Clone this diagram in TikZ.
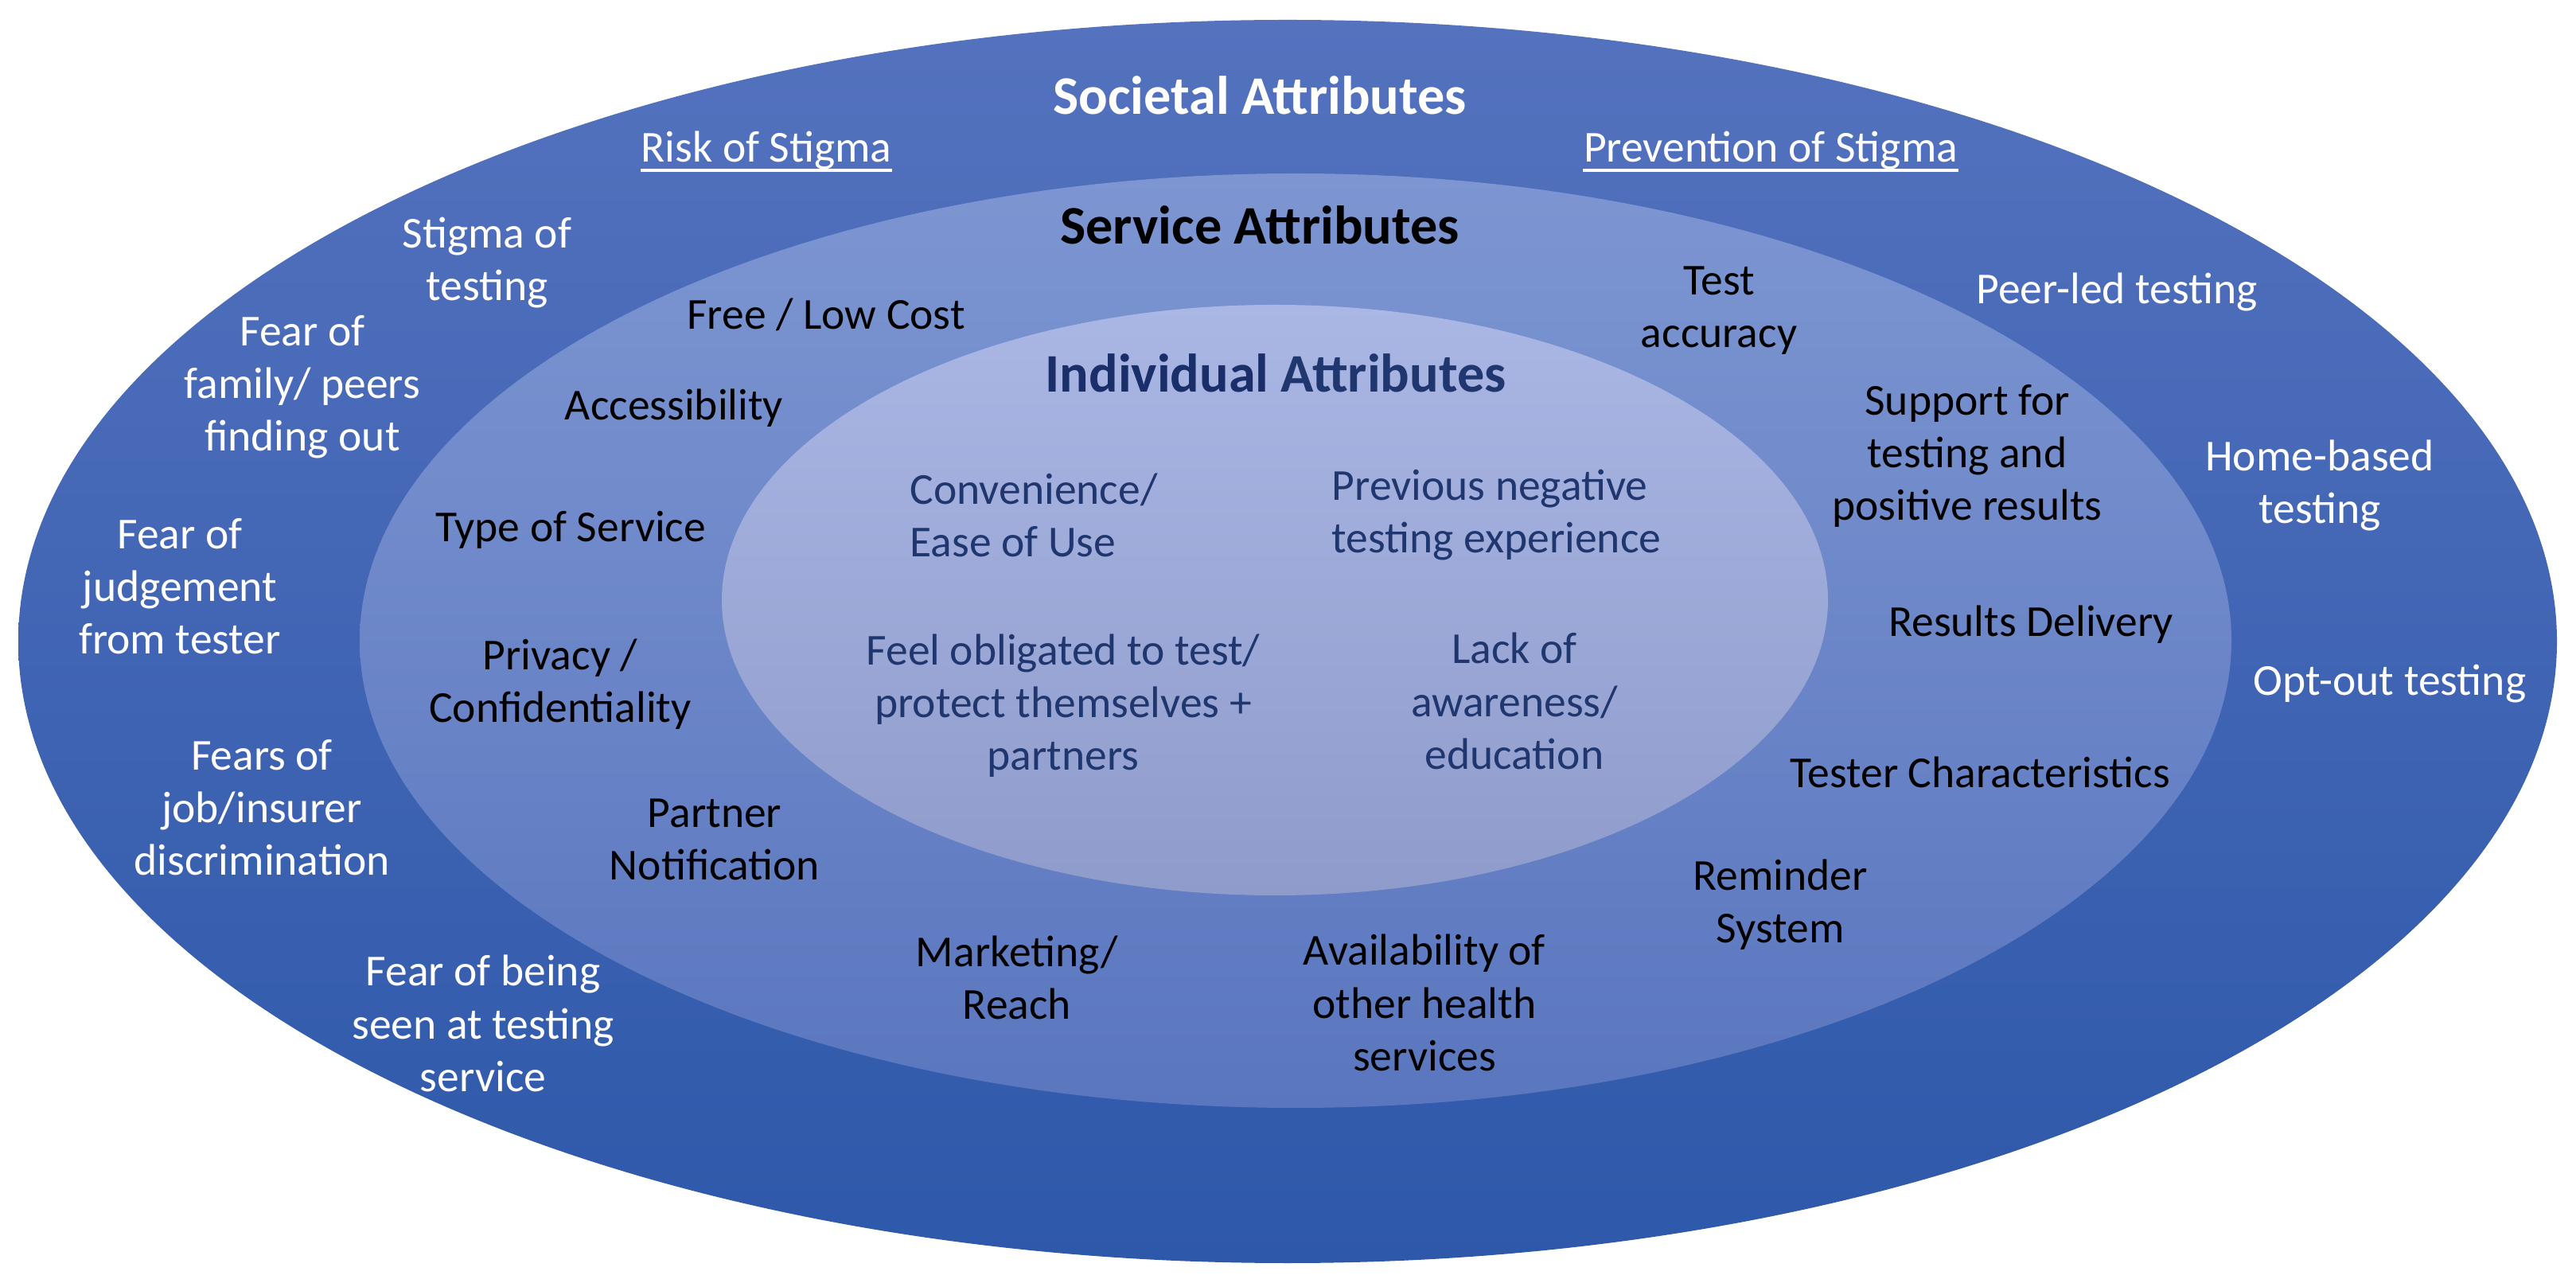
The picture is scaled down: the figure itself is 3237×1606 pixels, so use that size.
\documentclass[tikz,border=0pt]{standalone}
\usepackage{fontspec}
\setmainfont{Carlito}
\definecolor{outTop}{HTML}{5472BE}
\definecolor{outMid}{HTML}{3567B9}
\definecolor{outBot}{HTML}{2E58AA}
\definecolor{midTop}{HTML}{7D96D2}
\definecolor{midMid}{HTML}{6887CD}
\definecolor{midBot}{HTML}{5A76BE}
\definecolor{inTop}{HTML}{AAB6E4}
\definecolor{inMid}{HTML}{A5B2DE}
\definecolor{inBot}{HTML}{8F9CCB}
\definecolor{navy}{HTML}{1F366E}
\definecolor{navyDark}{HTML}{1A2F6A}
\tikzset{
  lbl/.style={inner sep=0pt, align=center, font=\fontsize{15.8}{18.8}\selectfont},
  societal/.style={lbl, text=white},
  service/.style={lbl, text=black},
  individual/.style={lbl, text=navy},
  ttl/.style={inner sep=0pt, font=\fontsize{19.4}{23}\selectfont\bfseries},
  uline/.style={white, line width=1.1pt}
}
\begin{document}
\begin{tikzpicture}[x=0.01cm, y=0.01cm]
\useasboundingbox (0,0) rectangle (3237,1606);
\fill[white] (0,0) rectangle (3237,1606);
% rings
\shade[top color=outTop, middle color=outMid, bottom color=outBot] (1618,800) ellipse [x radius=1595, y radius=781];
\shade[top color=midTop, middle color=midMid, bottom color=midBot] (1628,801) ellipse [x radius=1176, y radius=587];
\shade[top color=inTop, middle color=inMid, bottom color=inBot] (1602,852) ellipse [x radius=695, y radius=371];

% titles
\node[ttl, text=white] (soc) at (1583,1486) {Societal Attributes};
\node[ttl, text=black] (ser) at (1583,1323) {Service Attributes};
\node[ttl] (ind) at (1603,1137) {\textcolor{navyDark}{Individual} \textcolor{navy}{Attributes}};

% societal ring
\node[societal] (risk) at (963,1417) {Risk of Stigma};
\draw[uline] ([yshift=-3pt]risk.base west) -- ([yshift=-3pt]risk.base east);
\node[societal] (prev) at (2225,1417) {Prevention of Stigma};
\draw[uline] ([yshift=-3pt]prev.base west) -- ([yshift=-3pt]prev.base east);
\node[societal] (stig) at (612,1276) {Stigma of\\testing};
\node[societal] (fam) at (380,1120) {Fear of\\family/ peers\\finding out};
\node[societal] (judg) at (226,869) {Fear of\\judgement\\from tester};
\node[societal] (job) at (329,591) {Fears of\\job/insurer\\discrimination};
\node[societal] (seen) at (607,320) {Fear of being\\seen at testing\\service};
\node[societal] (peer) at (2660,1239) {Peer-led testing};
\node[societal] (home) at (2915,996) {Home-based\\testing};
\node[societal] (opt) at (3003,747) {Opt-out testing};

% service ring
\node[service] (free) at (1038,1211) {Free / Low Cost};
\node[service] (acc) at (847,1093) {Accessibility};
\node[service] (type) at (717,940) {Type of Service};
\node[service] (priv) at (704,746) {Privacy /\\Confidentiality};
\node[service] (part) at (898,551) {Partner\\Notification};
\node[service] (mark) at (1278,378) {Marketing/\\Reach};
\node[service] (avail) at (1790,346) {Availability of\\other health\\services};
\node[service] (remind) at (2237,469) {Reminder\\System};
\node[service] (tester) at (2488,636) {Tester Characteristics};
\node[service] (res) at (2552,821) {Results Delivery};
\node[service] (supp) at (2472,1033) {Support for\\testing and\\positive results};
\node[service] (acc2) at (2160,1216) {Test\\accuracy};

% individual core
\node[individual, align=left, anchor=west] (conv) at (1143,959) {Convenience/\\Ease of Use};
\node[individual, align=left, anchor=west] (prevneg) at (1673,959) {Previous negative\\testing experience};
\node[individual] (obl) at (1336,719) {Feel obligated to test/\\protect themselves +\\partners};
\node[individual] (lack) at (1903,725) {Lack of\\awareness/\\education};
\end{tikzpicture}
\end{document}
